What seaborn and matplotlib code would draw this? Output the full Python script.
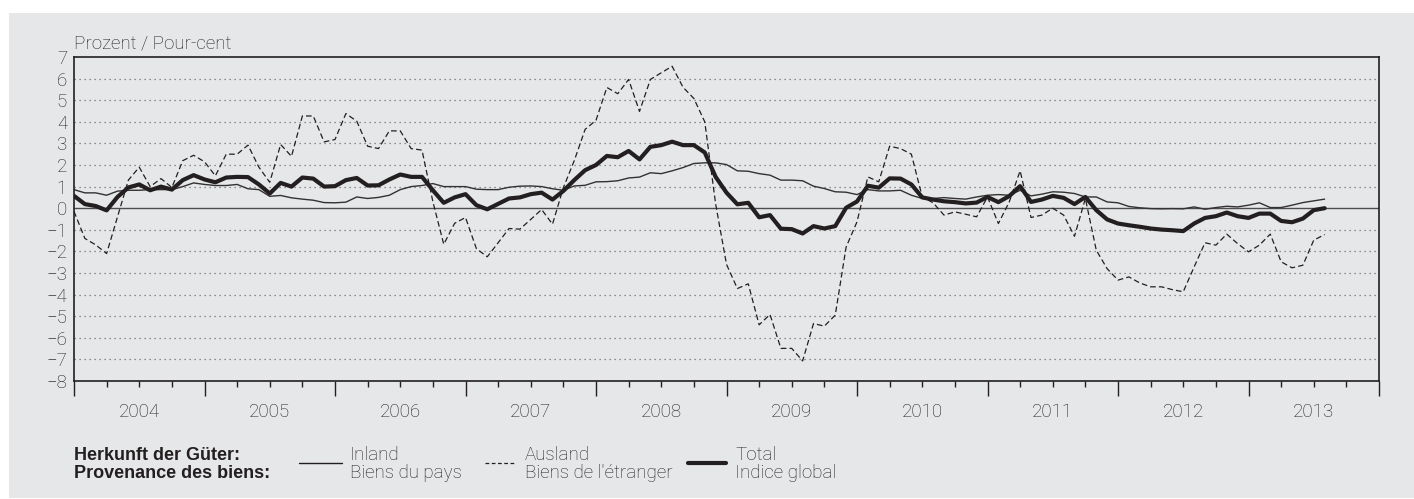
import numpy as np
import pandas as pd
import seaborn as sns
import matplotlib.pyplot as plt
from matplotlib.lines import Line2D
from matplotlib.patches import Rectangle
from matplotlib.ticker import MultipleLocator
from matplotlib.transforms import blended_transform_factory

# Produzenten- und Importpreise, Veraenderung gegenueber Vorjahr in %, monatlich ab Jan 2004
inland = [0.86, 0.71, 0.71, 0.60, 0.79, 0.83, 0.83, 0.86, 0.86, 0.86, 1.00, 1.17,
          1.10, 1.05, 1.05, 1.10, 0.90, 0.86, 0.55, 0.59, 0.48, 0.42, 0.37, 0.26,
          0.25, 0.28, 0.52, 0.45, 0.50, 0.60, 0.86, 1.00, 1.05, 1.14, 1.00, 1.00,
          1.00, 0.88, 0.86, 0.86, 0.97, 1.02, 1.03, 1.00, 0.90, 0.83, 1.03, 1.06,
          1.22, 1.23, 1.27, 1.40, 1.44, 1.64, 1.60, 1.73, 1.88, 2.07, 2.10, 2.10,
          2.02, 1.73, 1.71, 1.60, 1.53, 1.30, 1.30, 1.27, 1.02, 0.91, 0.76, 0.74,
          0.63, 0.86, 0.80, 0.80, 0.83, 0.60, 0.45, 0.45, 0.49, 0.45, 0.42, 0.52,
          0.60, 0.63, 0.60, 0.83, 0.57, 0.65, 0.76, 0.74, 0.68, 0.52, 0.52, 0.29,
          0.25, 0.08, 0.02, -0.02, -0.03, -0.02, -0.03, 0.06, -0.05, 0.03, 0.09, 0.06,
          0.14, 0.25, 0.03, 0.03, 0.14, 0.26, 0.34, 0.42]

ausland = [-0.15, -1.40, -1.70, -2.10, -0.40, 1.30, 1.90, 1.00, 1.37, 0.96, 2.20, 2.45,
           2.15, 1.50, 2.50, 2.50, 2.92, 1.90, 1.20, 2.95, 2.40, 4.27, 4.27, 3.07,
           3.18, 4.38, 4.03, 2.87, 2.76, 3.58, 3.58, 2.76, 2.69, 0.30, -1.67, -0.70,
           -0.43, -1.87, -2.25, -1.60, -0.94, -0.97, -0.52, -0.06, -0.74, 0.95, 2.20, 3.65,
           4.07, 5.59, 5.30, 5.96, 4.48, 5.96, 6.27, 6.57, 5.60, 5.08, 4.00, 0.20,
           -2.60, -3.72, -3.50, -5.40, -4.92, -6.49, -6.49, -7.07, -5.34, -5.46, -4.95, -1.80,
           -0.63, 1.45, 1.22, 2.87, 2.76, 2.50, 0.52, 0.25, -0.32, -0.17, -0.28, -0.40,
           0.52, -0.71, 0.29, 1.73, -0.43, -0.32, 0.00, -0.32, -1.30, 0.45, -1.94, -2.80,
           -3.33, -3.18, -3.46, -3.64, -3.64, -3.77, -3.87, -2.72, -1.60, -1.71, -1.20, -1.64,
           -2.02, -1.71, -1.20, -2.48, -2.76, -2.64, -1.48, -1.22]

total = [0.57, 0.19, 0.10, -0.10, 0.52, 0.96, 1.10, 0.83, 1.00, 0.86, 1.30, 1.53,
         1.33, 1.20, 1.42, 1.45, 1.44, 1.10, 0.68, 1.17, 1.00, 1.42, 1.37, 1.00,
         1.02, 1.30, 1.40, 1.05, 1.06, 1.33, 1.56, 1.45, 1.45, 0.83, 0.25, 0.50,
         0.65, 0.14, -0.05, 0.20, 0.45, 0.50, 0.65, 0.72, 0.40, 0.80, 1.30, 1.76,
         2.00, 2.42, 2.36, 2.65, 2.26, 2.84, 2.92, 3.08, 2.92, 2.92, 2.58, 1.45,
         0.72, 0.18, 0.25, -0.42, -0.32, -0.95, -0.97, -1.17, -0.83, -0.94, -0.83, 0.02,
         0.31, 1.04, 0.95, 1.38, 1.37, 1.10, 0.50, 0.40, 0.32, 0.28, 0.22, 0.26,
         0.52, 0.28, 0.56, 1.02, 0.29, 0.40, 0.57, 0.48, 0.19, 0.52, -0.09, -0.52,
         -0.71, -0.79, -0.86, -0.94, -0.99, -1.02, -1.06, -0.71, -0.45, -0.37, -0.20, -0.37,
         -0.45, -0.25, -0.25, -0.59, -0.65, -0.48, -0.09, 0.00]

years = list(range(2004, 2014))
y_ticks = list(range(-8, 8))

ink = "#231f20"
bg = "#e6e7e8"
W, H = 1414, 499
fs = 13.5

sns.set_theme(style="white")
plt.rcParams['font.family'] = ['Roboto', 'DejaVu Sans']
plt.rcParams['font.weight'] = 'light'
plt.rcParams['axes.unicode_minus'] = True

df = pd.DataFrame({"t": 2004 + np.arange(len(total)) / 12,
                   "inland": inland, "ausland": ausland, "total": total})

fig = plt.figure(figsize=(W / 100, H / 100), dpi=100, facecolor="white")
fig.patches.append(Rectangle((9 / W, 1 / H), 1, (498 - 13) / H, transform=fig.transFigure,
                             facecolor=bg, edgecolor="none", zorder=-5))

ax = fig.add_axes([74 / W, (H - 381) / H, (1379 - 74) / W, (381 - 57) / H])
ax.set_facecolor("none")

# gitter
for v in y_ticks[1:-1]:
    if v == 0:
        ax.axhline(0, color="#4d4d4f", lw=1.0, zorder=1)
    else:
        ax.axhline(v, color="#6d6e71", lw=0.9, linestyle=(0, (1, 3)), zorder=0.5)

sns.lineplot(data=df, x="t", y="inland", ax=ax, color="#333132", linewidth=1.0, zorder=2)
sns.lineplot(data=df, x="t", y="ausland", ax=ax, color=ink, linewidth=0.9,
             linestyle=(0, (4.5, 2.5)), zorder=2)
sns.lineplot(data=df, x="t", y="total", ax=ax, color=ink, linewidth=3.0, zorder=3)

ax.set_xlim(2004, 2014)
ax.set_ylim(-8, 7)
ax.set_xlabel("")
ax.set_ylabel("")
ax.set_yticks(y_ticks)
ax.tick_params(axis="y", length=0, pad=5, labelsize=fs, colors=ink)
ax.set_xticks(range(2004, 2015))
ax.set_xticklabels([])
ax.xaxis.set_minor_locator(MultipleLocator(0.25))
ax.tick_params(axis="x", which="major", length=11, width=1.0, direction="out", color=ink, bottom=True)
ax.tick_params(axis="x", which="minor", length=4, width=1.0, direction="out", color=ink, bottom=True)
for s in ax.spines.values():
    s.set_visible(True)
    s.set_color(ink)
    s.set_linewidth(1.2)

trans = blended_transform_factory(ax.transData, ax.transAxes)
for y in years:
    ax.text(y + 0.5, (381 - 412) / 324, str(y), transform=trans, ha="center", va="center",
            fontsize=fs, color=ink)

fig.text(74 / W, 1 - 48 / H, "Prozent / Pour-cent", fontsize=fs, color=ink, va="baseline")

# legende
bold = ["Liberation Sans", "DejaVu Sans"]
fig.text(74 / W, 1 - 455 / H, "Herkunft der Güter:", fontsize=13, fontweight="bold",
         color=ink, va="center", family=bold)
fig.text(74 / W, 1 - 474 / H, "Provenance des biens:", fontsize=13, fontweight="bold",
         color=ink, va="center", family=bold)
entries = [(299, 342, 350, "Inland\nBiens du pays", "-", 1.0),
           (485, 515, 525, "Ausland\nBiens de l'étranger", (0, (3, 2)), 0.9),
           (688, 726, 735, "Total\nIndice global", "-", 3.0)]
for x0, x1, xt, lab, ls, lw in entries:
    fig.add_artist(Line2D([x0 / W, x1 / W], [1 - 463 / H, 1 - 463 / H], transform=fig.transFigure,
                          color=ink, linestyle=ls, linewidth=lw))
    fig.text(xt / W, 1 - 464.5 / H, lab, fontsize=fs, color=ink, va="center", linespacing=1.0)

fig.savefig("out.png", dpi=100, facecolor=fig.get_facecolor())
